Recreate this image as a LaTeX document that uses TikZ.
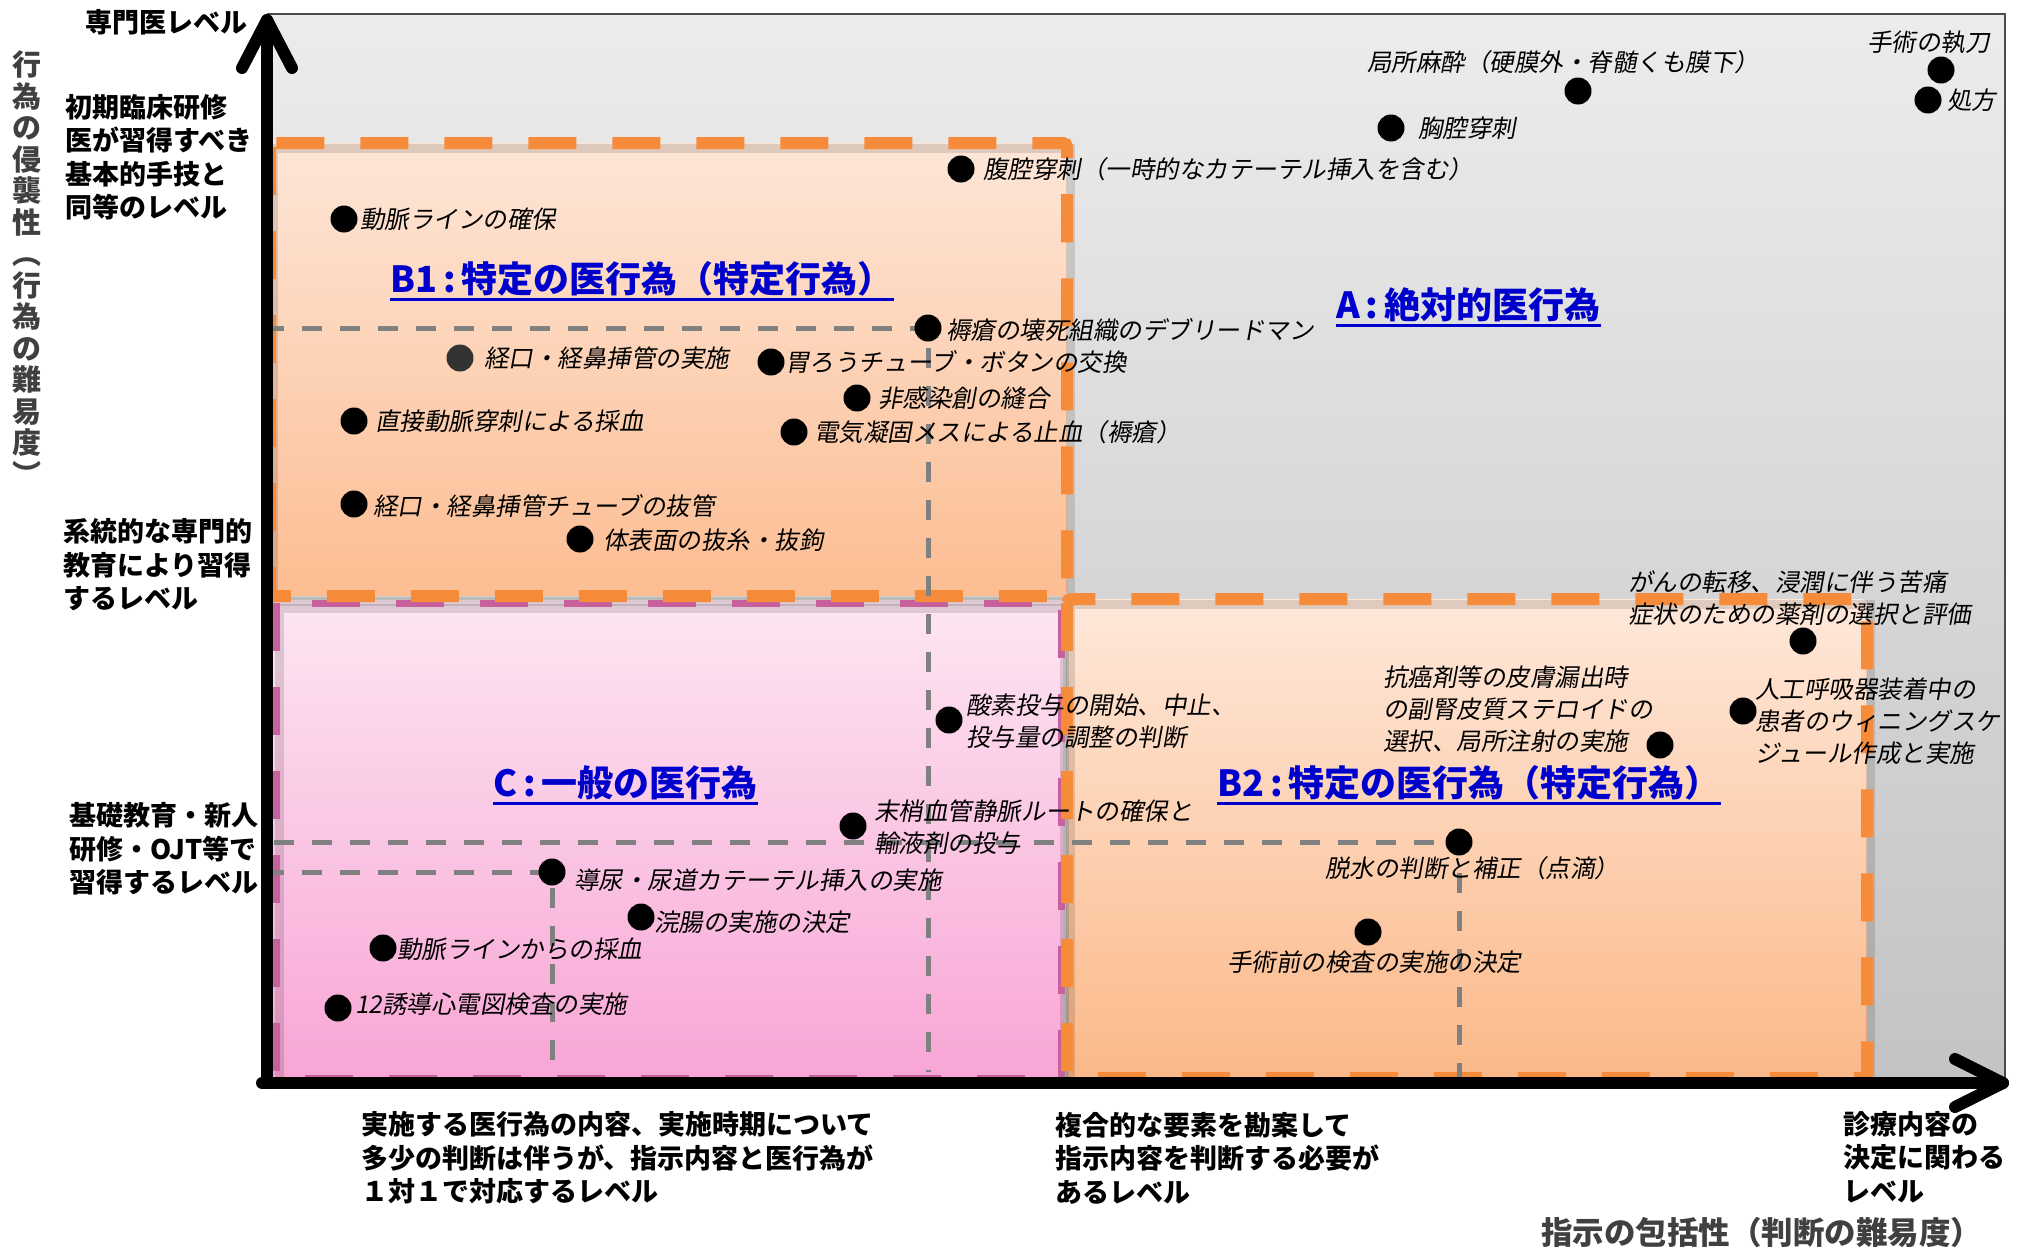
\documentclass[tikz,border=0pt]{standalone}
\usepackage{fontspec}
\setmainfont{Noto Sans CJK JP}
\newfontfamily\jpit{Noto Sans CJK JP}[FakeSlant=0.18]
\definecolor{dorange}{HTML}{F68B3A}
\definecolor{dpink}{HTML}{C8609E}
\definecolor{guidegray}{HTML}{808080}
\definecolor{tblue}{HTML}{0000CC}
\definecolor{axgray}{HTML}{404040}
\definecolor{grayTop}{HTML}{ECECEC}
\definecolor{grayBot}{HTML}{C3C3C3}
\definecolor{b1Top}{HTML}{FDE6D8}
\definecolor{b1Bot}{HTML}{FCBD92}
\definecolor{cTop}{HTML}{FDE6F2}
\definecolor{cBot}{HTML}{F8A5D5}
\definecolor{b2Top}{HTML}{FEE8DA}
\definecolor{b2Bot}{HTML}{FBB888}
\tikzset{
  pdot/.style={circle, fill=black, minimum size=27pt, inner sep=0pt},
  itm/.style={anchor=west, inner sep=0pt, align=left, font=\jpit\fontsize{24.5}{32}\selectfont},
  lvl/.style={anchor=west, inner sep=0pt, align=left, font=\bfseries\fontsize{27}{33.5}\selectfont},
  ttl/.style={anchor=west, inner sep=0pt, text=tblue, font=\bfseries\fontsize{36}{40}\selectfont},
  ttlline/.style={draw=tblue, line width=2.6pt},
  guideln/.style={draw=guidegray, line width=5pt, dash pattern=on 20pt off 18pt},
  odash/.style={draw=dorange, line width=12pt, dash pattern=on 48pt off 36pt},
  pdash/.style={draw=dpink, line width=7pt, dash pattern=on 48pt off 36pt},
  shadowln/.style={draw=black, opacity=0.12, line width=9pt},
  axisln/.style={draw=black, line width=12pt, line cap=round, line join=round},
}
\begin{document}
\begin{tikzpicture}[x=1pt,y=-1pt]
\useasboundingbox (0,0) rectangle (2018,1253);
\fill[white] (0,0) rectangle (2018,1253);

% region A background
\shade[top color=grayTop, bottom color=grayBot] (267,14) rectangle (2005,1083);
\draw[draw=black!70, line width=1.8pt] (267,14) -- (2005,14) -- (2005,1083);

% region fills
\shade[top color=b1Top, bottom color=b1Bot, rounded corners=5pt] (267,143) rectangle (1067,596);
\shade[top color=cTop, bottom color=cBot] (267,600) rectangle (1063,1083);
\shade[top color=b2Top, bottom color=b2Bot, rounded corners=5pt] (1067,599) rectangle (1867,1083);

% shadows of the dashed borders
\draw[shadowln, shift={(3,5)}] (270,143) rectangle (1067,596);
\draw[shadowln, shift={(3,5)}] (276,603) rectangle (1061,1078);
\draw[shadowln, shift={(3,5)}] (1067,599) rectangle (1867,1078);

% dashed borders
\draw[pdash] (276,603) rectangle (1061,1078);
\draw[odash, rounded corners=4pt] (270,143) rectangle (1067,596);
\draw[odash, rounded corners=4pt] (1067,599) rectangle (1867,1078);

% dot positions
\coordinate (p1) at (344,219);
\coordinate (p2) at (961,169);
\coordinate (p3) at (1391,128);
\coordinate (p4) at (1578,91);
\coordinate (p5) at (1941,70);
\coordinate (p6) at (1928,100);
\coordinate (p7) at (928,328);
\coordinate (p8) at (460,358);
\coordinate (p9) at (771,362);
\coordinate (p10) at (857,398);
\coordinate (p11) at (354,421);
\coordinate (p12) at (794,432);
\coordinate (p13) at (354,504);
\coordinate (p14) at (580,539);
\coordinate (p15) at (949,720);
\coordinate (p16) at (853,826);
\coordinate (p17) at (552,872);
\coordinate (p18) at (641,917);
\coordinate (p19) at (383,948);
\coordinate (p20) at (338,1008);
\coordinate (p21) at (1803,641);
\coordinate (p22) at (1660,745);
\coordinate (p23) at (1743,711);
\coordinate (p24) at (1459,842);
\coordinate (p25) at (1368,932);

% guide lines
\coordinate (gh1) at (264,328);
\coordinate (gv1) at (928,1072);
\coordinate (gh2) at (274,842);
\coordinate (gv2) at (1459,1092);
\coordinate (gh3) at (264,872);
\coordinate (gv3) at (552,1074);
\draw[guideln] (gh1) -- (p7) -- (gv1);
\draw[guideln] (gh2) -- (p24) -- (gv2);
\draw[guideln] (gh3) -- (p17) -- (gv3);

% axes
\coordinate (yo) at (267,1083);
\coordinate (ytip) at (267,20);
\coordinate (xo) at (262,1083);
\coordinate (xtip) at (2003,1083);
\draw[axisln] (yo) -- (ytip);
\draw[axisln] ([shift={(-25,48)}]ytip) -- (ytip) -- ([shift={(25,48)}]ytip);
\draw[axisln] (xo) -- (xtip);
\draw[axisln] ([shift={(-48,-24)}]xtip) -- (xtip) -- ([shift={(-48,24)}]xtip);

% dots
\foreach \i in {1,2,3,4,5,6,7,9,10,11,12,13,14,15,16,17,18,19,20,21,22,23,24,25}
  \node[pdot] (d\i) at (p\i) {};
\node[pdot, fill=black!80] (d8) at (p8) {};

% item labels
\node[itm] (l1) at (360,219) {動脈ラインの確保};
\node[itm] (l2) at (983,169) {腹腔穿刺（一時的なカテーテル挿入を含む）};
\node[itm] (l3) at (1418,128) {胸腔穿刺};
\node[itm] (l4) at (1367,62) {局所麻酔（硬膜外・脊髄くも膜下）};
\node[itm] (l5) at (1867,42) {手術の執刀};
\node[itm] (l6) at (1947,100) {処方};
\node[itm] (l7) at (946,330) {褥瘡の壊死組織のデブリードマン};
\node[itm] (l8) at (484,358) {経口・経鼻挿管の実施};
\node[itm] (l9) at (785,362) {胃ろうチューブ・ボタンの交換};
\node[itm] (l10) at (878,398) {非感染創の縫合};
\node[itm] (l11) at (375,421) {直接動脈穿刺による採血};
\node[itm] (l12) at (814,432) {電気凝固メスによる止血（褥瘡）};
\node[itm] (l13) at (373,506) {経口・経鼻挿管チューブの抜管};
\node[itm] (l14) at (603,540) {体表面の抜糸・抜鉤};
\node[itm] (l15) at (966,721) {酸素投与の開始、中止、\\投与量の調整の判断};
\node[itm] (l16) at (874,827) {末梢血管静脈ルートの確保と\\輸液剤の投与};
\node[itm] (l17) at (574,880) {導尿・尿道カテーテル挿入の実施};
\node[itm] (l18) at (654,922) {浣腸の実施の決定};
\node[itm] (l19) at (397,949) {動脈ラインからの採血};
\node[itm] (l20) at (355,1004) {12誘導心電図検査の実施};
\node[itm] (l21) at (1628,598) {がんの転移、浸潤に伴う苦痛\\症状のための薬剤の選択と評価};
\node[itm] (l22) at (1383,709) {抗癌剤等の皮膚漏出時\\の副腎皮質ステロイドの\\選択、局所注射の実施};
\node[itm] (l23) at (1755,721) {人工呼吸器装着中の\\患者のウィニングスケ\\ジュール作成と実施};
\node[itm] (l24) at (1325,868) {脱水の判断と補正（点滴）};
\node[itm] (l25) at (1227,962) {手術前の検査の実施の決定};

% region titles
\node[ttl] (tb1) at (390,279) {B1\,:\,特定の医行為（特定行為）};
\node[ttl] (ta) at (1336,305) {A\,:\,絶対的医行為};
\node[ttl] (tc) at (493,783) {C\,:\,一般の医行為};
\node[ttl] (tb2) at (1217,783) {B2\,:\,特定の医行為（特定行為）};
\foreach \t in {tb1,ta,tc,tb2}
  \draw[ttlline] ([yshift=-3pt]\t.south west) -- ([yshift=-3pt]\t.south east);

% level labels
\node[lvl] (lv0) at (85,22) {専門医レベル};
\node[lvl] (lv1) at (65,157) {初期臨床研修\\医が習得すべき\\基本的手技と\\同等のレベル};
\node[lvl] (lv2) at (63,565) {系統的な専門的\\教育により習得\\するレベル};
\node[lvl] (lv3) at (69,849) {基礎教育・新人\\研修・OJT等で\\習得するレベル};
\node[lvl] (bx1) at (361,1158) {実施する医行為の内容、実施時期について\\多少の判断は伴うが、指示内容と医行為が\\１対１で対応するレベル};
\node[lvl] (bx2) at (1055,1158) {複合的な要素を勘案して\\指示内容を判断する必要が\\あるレベル};
\node[lvl] (bx3) at (1843,1157) {診療内容の\\決定に関わる\\レベル};

% axis titles
\node[anchor=west, inner sep=0pt, text=axgray, font=\bfseries\fontsize{31.5}{34}\selectfont] (axx) at (1541,1233) {指示の包括性（判断の難易度）};
\node[inner sep=0pt, align=center, text=axgray, font=\bfseries\fontsize{29}{31.5}\selectfont] (axy) at (27,268) {行\\為\\の\\侵\\襲\\性\\︵\\行\\為\\の\\難\\易\\度\\︶};
\end{tikzpicture}
\end{document}
